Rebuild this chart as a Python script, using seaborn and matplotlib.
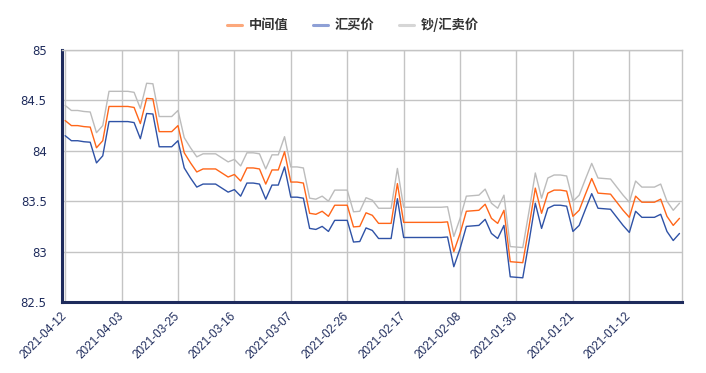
import pandas as pd
import numpy as np
import matplotlib
matplotlib.use("Agg")
import matplotlib.pyplot as plt
import seaborn as sns
from matplotlib.lines import Line2D

# =========================
# DATA (daily, newest first: 2021-04-12 back to 2021-01-04)
# =========================

dates = pd.date_range("2021-01-04", "2021-04-12")[::-1].strftime("%Y-%m-%d")

mid_rate = [84.30, 84.25, 84.25, 84.24, 84.235, 84.03, 84.10, 84.44, 84.44, 84.44,
            84.44, 84.43, 84.27, 84.52, 84.515, 84.19, 84.19, 84.19, 84.25, 83.98,
            83.88, 83.79, 83.82, 83.82, 83.82, 83.78, 83.74, 83.765, 83.70, 83.83,
            83.83, 83.82, 83.67, 83.81, 83.81, 83.99, 83.69, 83.69, 83.68, 83.38,
            83.37, 83.40, 83.35, 83.46, 83.46, 83.46, 83.245, 83.25, 83.385, 83.36,
            83.28, 83.28, 83.28, 83.675, 83.29, 83.29, 83.29, 83.29, 83.29, 83.29,
            83.29, 83.295, 83.00, 83.18, 83.40, 83.405, 83.41, 83.47, 83.33, 83.28,
            83.41, 82.90, 82.895, 82.89, 83.25, 83.63, 83.38, 83.58, 83.61, 83.61,
            83.60, 83.35, 83.41, 83.57, 83.725, 83.58, 83.575, 83.57, 83.49, 83.41,
            83.34, 83.55, 83.49, 83.49, 83.49, 83.52, 83.35, 83.26, 83.33]

buy_rate = [84.15, 84.10, 84.10, 84.09, 84.085, 83.88, 83.95, 84.29, 84.29, 84.29,
            84.29, 84.28, 84.12, 84.37, 84.365, 84.04, 84.04, 84.04, 84.10, 83.83,
            83.73, 83.64, 83.67, 83.67, 83.67, 83.63, 83.59, 83.615, 83.55, 83.68,
            83.68, 83.67, 83.52, 83.66, 83.66, 83.84, 83.54, 83.54, 83.53, 83.23,
            83.22, 83.25, 83.20, 83.31, 83.31, 83.31, 83.095, 83.10, 83.235, 83.21,
            83.13, 83.13, 83.13, 83.525, 83.14, 83.14, 83.14, 83.14, 83.14, 83.14,
            83.14, 83.145, 82.85, 83.03, 83.25, 83.255, 83.26, 83.32, 83.18, 83.13,
            83.26, 82.75, 82.745, 82.74, 83.10, 83.48, 83.23, 83.43, 83.46, 83.46,
            83.45, 83.20, 83.26, 83.42, 83.575, 83.43, 83.425, 83.42, 83.34, 83.26,
            83.19, 83.40, 83.34, 83.34, 83.34, 83.37, 83.20, 83.11, 83.18]

sell_rate = [84.45, 84.40, 84.40, 84.39, 84.385, 84.18, 84.25, 84.59, 84.59, 84.59,
             84.59, 84.58, 84.42, 84.67, 84.665, 84.34, 84.34, 84.34, 84.40, 84.13,
             84.03, 83.94, 83.97, 83.97, 83.97, 83.93, 83.89, 83.915, 83.85, 83.98,
             83.98, 83.97, 83.82, 83.96, 83.96, 84.14, 83.84, 83.84, 83.83, 83.53,
             83.52, 83.55, 83.50, 83.61, 83.61, 83.61, 83.395, 83.40, 83.535, 83.51,
             83.43, 83.43, 83.43, 83.825, 83.44, 83.44, 83.44, 83.44, 83.44, 83.44,
             83.44, 83.445, 83.15, 83.33, 83.55, 83.555, 83.56, 83.62, 83.48, 83.43,
             83.56, 83.05, 83.045, 83.04, 83.40, 83.78, 83.53, 83.73, 83.76, 83.76,
             83.75, 83.50, 83.56, 83.72, 83.875, 83.73, 83.725, 83.72, 83.64, 83.56,
             83.49, 83.70, 83.64, 83.64, 83.64, 83.67, 83.50, 83.41, 83.48]

series_names = ["中间值", "汇买价", "钞/汇卖价"]
line_colors = ["#ff6619", "#2f52a6", "#bcbcbc"]
legend_colors = ["#fca87c", "#8ea0d6", "#d6d6d6"]

tick_labels = ["2021-04-12", "2021-04-03", "2021-03-25", "2021-03-16", "2021-03-07",
               "2021-02-26", "2021-02-17", "2021-02-08", "2021-01-30", "2021-01-21",
               "2021-01-12"]
y_ticks = [82.5, 83, 83.5, 84, 84.5, 85]
y_labels = ["82.5", "83", "83.5", "84", "84.5", "85"]

# =========================
# LONG FORMAT TABLE
# =========================

df = pd.DataFrame({
    "idx": np.arange(len(dates)),
    "date": dates,
    "中间值": mid_rate,
    "汇买价": buy_rate,
    "钞/汇卖价": sell_rate,
})
long_df = df.melt(id_vars=["idx", "date"], var_name="series", value_name="rate")

# =========================
# PLOT
# =========================

sns.set_style("white")
plt.rcParams["font.family"] = ["Noto Sans CJK SC", "DejaVu Sans"]

navy = "#1e2b5c"

fig = plt.figure(figsize=(7.06, 3.73), dpi=100)
ax = fig.add_axes([62 / 706, 1 - 302 / 373, 620 / 706, 252 / 373])

sns.lineplot(
    data=long_df,
    x="idx",
    y="rate",
    hue="series",
    hue_order=series_names[::-1],
    palette=dict(zip(series_names, line_colors)),
    linewidth=1.0,
    legend=False,
    ax=ax,
)

ax.set_xlim(-0.5, 98.4)
ax.set_ylim(82.5, 85)

ax.set_xticks(np.arange(0, 91, 9))
ax.set_xticklabels(tick_labels, rotation=45, ha="right", va="center",
                   rotation_mode="anchor", fontsize=8.5, color=navy,
                   family="Liberation Sans")
ax.set_yticks(y_ticks)
ax.set_yticklabels(y_labels, fontsize=8.5, color=navy, family="DejaVu Sans")

ax.tick_params(axis="x", length=3, width=1.2, color=navy, pad=6)
ax.tick_params(axis="y", length=0, pad=11)

ax.grid(True, color="#c4c4c4", linewidth=1.0)
ax.set_axisbelow(True)
ax.set_xlabel("")
ax.set_ylabel("")

for side in ["left", "bottom"]:
    ax.spines[side].set_color(navy)
    ax.spines[side].set_linewidth(2.2)
for side in ["top", "right"]:
    ax.spines[side].set_color("#c4c4c4")
    ax.spines[side].set_linewidth(1.0)

handles = [Line2D([0], [0], color=c, linewidth=2.2) for c in legend_colors]
fig.legend(
    handles,
    series_names,
    loc="center",
    bbox_to_anchor=(0.5, 1 - 25 / 373),
    ncol=3,
    frameon=False,
    handlelength=1.1,
    handletextpad=0.5,
    columnspacing=1.9,
    prop={"family": ["Noto Sans CJK SC", "DejaVu Sans"], "weight": "bold", "size": 9.5},
    labelcolor="#333333",
)

fig.savefig("out.png", dpi=100)
